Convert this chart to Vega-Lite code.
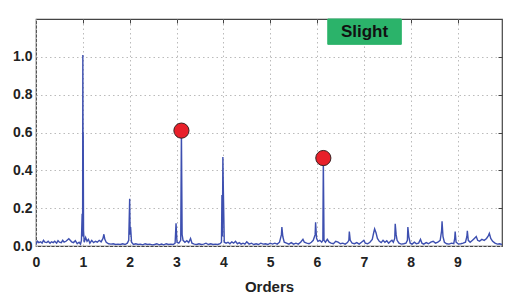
{
  "$schema": "https://vega.github.io/schema/vega-lite/v6.json",
  "width": 466,
  "height": 227,
  "autosize": {"type": "none"},
  "padding": {"left": 36, "top": 19, "right": 5, "bottom": 53},
  "background": "white",
  "config": {
    "font": "Liberation Sans",
    "view": {"stroke": "#444444", "strokeWidth": 1.2},
    "axis": {
      "labelFont": "Liberation Sans",
      "labelFontWeight": "bold",
      "labelFontSize": 14,
      "labelColor": "#222222",
      "labelFlush": false,
      "labelOverlap": false,
      "titleFont": "Liberation Sans",
      "titleFontWeight": "bold",
      "titleFontSize": 15,
      "titleColor": "#222222",
      "domain": false,
      "tickColor": "#444444",
      "gridColor": "#bbbbbb",
      "gridDash": [1.5, 3],
      "gridWidth": 1
    }
  },
  "datasets": {
    "spec": [
      {"o":0.00,"a":0.010},{"o":0.03,"a":0.025},{"o":0.06,"a":0.018},{"o":0.10,"a":0.022},{"o":0.13,"a":0.015},{"o":0.16,"a":0.030},{"o":0.19,"a":0.020},{"o":0.23,"a":0.018},{"o":0.26,"a":0.025},{"o":0.30,"a":0.015},{"o":0.33,"a":0.022},{"o":0.37,"a":0.018},{"o":0.40,"a":0.025},{"o":0.44,"a":0.015},{"o":0.47,"a":0.028},{"o":0.50,"a":0.020},{"o":0.54,"a":0.018},{"o":0.57,"a":0.030},{"o":0.60,"a":0.020},{"o":0.64,"a":0.025},{"o":0.67,"a":0.032},{"o":0.70,"a":0.038},{"o":0.73,"a":0.030},{"o":0.76,"a":0.022},{"o":0.80,"a":0.018},{"o":0.84,"a":0.028},{"o":0.88,"a":0.012},{"o":0.92,"a":0.020},{"o":0.95,"a":0.010},{"o":0.97,"a":0.030},{"o":0.985,"a":0.170},{"o":0.995,"a":0.050},{"o":1.000,"a":1.010},{"o":1.005,"a":0.400},{"o":1.008,"a":0.600},{"o":1.015,"a":0.080},{"o":1.03,"a":0.020},{"o":1.06,"a":0.045},{"o":1.09,"a":0.025},{"o":1.12,"a":0.035},{"o":1.15,"a":0.015},{"o":1.19,"a":0.030},{"o":1.23,"a":0.018},{"o":1.27,"a":0.025},{"o":1.31,"a":0.020},{"o":1.35,"a":0.030},{"o":1.39,"a":0.022},{"o":1.43,"a":0.040},{"o":1.45,"a":0.062},{"o":1.47,"a":0.035},{"o":1.50,"a":0.020},{"o":1.55,"a":0.012},{"o":1.60,"a":0.010},{"o":1.65,"a":0.012},{"o":1.70,"a":0.008},{"o":1.75,"a":0.010},{"o":1.80,"a":0.008},{"o":1.85,"a":0.012},{"o":1.90,"a":0.008},{"o":1.95,"a":0.015},{"o":1.98,"a":0.030},{"o":2.00,"a":0.250},{"o":2.01,"a":0.060},{"o":2.02,"a":0.100},{"o":2.04,"a":0.020},{"o":2.08,"a":0.008},{"o":2.13,"a":0.012},{"o":2.18,"a":0.008},{"o":2.23,"a":0.010},{"o":2.28,"a":0.006},{"o":2.33,"a":0.012},{"o":2.38,"a":0.008},{"o":2.43,"a":0.010},{"o":2.48,"a":0.006},{"o":2.53,"a":0.008},{"o":2.58,"a":0.012},{"o":2.63,"a":0.006},{"o":2.68,"a":0.010},{"o":2.73,"a":0.006},{"o":2.78,"a":0.012},{"o":2.83,"a":0.008},{"o":2.88,"a":0.010},{"o":2.93,"a":0.008},{"o":2.97,"a":0.015},{"o":2.99,"a":0.120},{"o":3.01,"a":0.020},{"o":3.05,"a":0.015},{"o":3.09,"a":0.030},{"o":3.105,"a":0.610},{"o":3.12,"a":0.060},{"o":3.14,"a":0.030},{"o":3.18,"a":0.020},{"o":3.22,"a":0.028},{"o":3.26,"a":0.018},{"o":3.30,"a":0.040},{"o":3.33,"a":0.015},{"o":3.38,"a":0.010},{"o":3.43,"a":0.008},{"o":3.48,"a":0.012},{"o":3.53,"a":0.008},{"o":3.58,"a":0.010},{"o":3.63,"a":0.015},{"o":3.68,"a":0.008},{"o":3.73,"a":0.012},{"o":3.78,"a":0.008},{"o":3.83,"a":0.010},{"o":3.88,"a":0.008},{"o":3.93,"a":0.012},{"o":3.96,"a":0.020},{"o":3.97,"a":0.270},{"o":3.98,"a":0.050},{"o":3.99,"a":0.470},{"o":4.00,"a":0.300},{"o":4.02,"a":0.020},{"o":4.06,"a":0.015},{"o":4.10,"a":0.020},{"o":4.14,"a":0.012},{"o":4.18,"a":0.022},{"o":4.22,"a":0.015},{"o":4.26,"a":0.025},{"o":4.30,"a":0.012},{"o":4.34,"a":0.018},{"o":4.38,"a":0.010},{"o":4.42,"a":0.015},{"o":4.46,"a":0.010},{"o":4.50,"a":0.022},{"o":4.55,"a":0.010},{"o":4.60,"a":0.015},{"o":4.65,"a":0.008},{"o":4.70,"a":0.012},{"o":4.75,"a":0.008},{"o":4.80,"a":0.015},{"o":4.85,"a":0.010},{"o":4.90,"a":0.012},{"o":4.95,"a":0.008},{"o":5.00,"a":0.015},{"o":5.05,"a":0.010},{"o":5.10,"a":0.015},{"o":5.15,"a":0.010},{"o":5.20,"a":0.020},{"o":5.24,"a":0.060},{"o":5.25,"a":0.100},{"o":5.27,"a":0.050},{"o":5.30,"a":0.020},{"o":5.35,"a":0.015},{"o":5.40,"a":0.010},{"o":5.45,"a":0.018},{"o":5.50,"a":0.010},{"o":5.55,"a":0.015},{"o":5.60,"a":0.010},{"o":5.65,"a":0.020},{"o":5.70,"a":0.035},{"o":5.73,"a":0.020},{"o":5.78,"a":0.015},{"o":5.83,"a":0.012},{"o":5.88,"a":0.020},{"o":5.92,"a":0.030},{"o":5.96,"a":0.060},{"o":5.97,"a":0.125},{"o":5.99,"a":0.040},{"o":6.02,"a":0.025},{"o":6.06,"a":0.030},{"o":6.10,"a":0.020},{"o":6.125,"a":0.030},{"o":6.135,"a":0.465},{"o":6.15,"a":0.030},{"o":6.18,"a":0.020},{"o":6.22,"a":0.035},{"o":6.26,"a":0.020},{"o":6.30,"a":0.015},{"o":6.35,"a":0.012},{"o":6.40,"a":0.025},{"o":6.45,"a":0.020},{"o":6.50,"a":0.012},{"o":6.55,"a":0.015},{"o":6.60,"a":0.010},{"o":6.65,"a":0.018},{"o":6.68,"a":0.030},{"o":6.69,"a":0.076},{"o":6.71,"a":0.030},{"o":6.75,"a":0.015},{"o":6.80,"a":0.012},{"o":6.85,"a":0.018},{"o":6.90,"a":0.010},{"o":6.95,"a":0.020},{"o":7.00,"a":0.030},{"o":7.03,"a":0.015},{"o":7.08,"a":0.012},{"o":7.13,"a":0.020},{"o":7.18,"a":0.035},{"o":7.21,"a":0.070},{"o":7.23,"a":0.090},{"o":7.26,"a":0.070},{"o":7.29,"a":0.040},{"o":7.33,"a":0.025},{"o":7.37,"a":0.018},{"o":7.41,"a":0.030},{"o":7.45,"a":0.020},{"o":7.49,"a":0.028},{"o":7.53,"a":0.015},{"o":7.57,"a":0.025},{"o":7.60,"a":0.030},{"o":7.63,"a":0.020},{"o":7.66,"a":0.040},{"o":7.67,"a":0.117},{"o":7.69,"a":0.060},{"o":7.71,"a":0.030},{"o":7.75,"a":0.015},{"o":7.80,"a":0.010},{"o":7.85,"a":0.012},{"o":7.90,"a":0.015},{"o":7.93,"a":0.030},{"o":7.94,"a":0.100},{"o":7.96,"a":0.050},{"o":7.99,"a":0.015},{"o":8.03,"a":0.010},{"o":8.08,"a":0.020},{"o":8.12,"a":0.012},{"o":8.17,"a":0.015},{"o":8.21,"a":0.035},{"o":8.24,"a":0.015},{"o":8.28,"a":0.010},{"o":8.33,"a":0.018},{"o":8.38,"a":0.012},{"o":8.43,"a":0.020},{"o":8.48,"a":0.025},{"o":8.53,"a":0.015},{"o":8.58,"a":0.020},{"o":8.63,"a":0.030},{"o":8.66,"a":0.080},{"o":8.67,"a":0.130},{"o":8.69,"a":0.050},{"o":8.72,"a":0.020},{"o":8.77,"a":0.012},{"o":8.82,"a":0.010},{"o":8.87,"a":0.015},{"o":8.92,"a":0.012},{"o":8.94,"a":0.040},{"o":8.95,"a":0.076},{"o":8.97,"a":0.020},{"o":9.02,"a":0.010},{"o":9.07,"a":0.012},{"o":9.12,"a":0.015},{"o":9.17,"a":0.020},{"o":9.20,"a":0.050},{"o":9.21,"a":0.080},{"o":9.23,"a":0.030},{"o":9.27,"a":0.020},{"o":9.32,"a":0.030},{"o":9.36,"a":0.040},{"o":9.40,"a":0.050},{"o":9.43,"a":0.030},{"o":9.47,"a":0.025},{"o":9.52,"a":0.035},{"o":9.57,"a":0.030},{"o":9.62,"a":0.040},{"o":9.66,"a":0.055},{"o":9.68,"a":0.067},{"o":9.71,"a":0.040},{"o":9.75,"a":0.025},{"o":9.80,"a":0.015},{"o":9.85,"a":0.010},{"o":9.90,"a":0.012},{"o":9.95,"a":0.008}
    ],
    "peaks": [
      {"o": 3.105, "a": 0.61},
      {"o": 6.135, "a": 0.465}
    ],
    "box": [
      {"x1": 6.23, "x2": 7.80, "y1": 1.066, "y2": 1.2, "label": "Slight", "xm": 7.015, "ym": 1.133}
    ]
  },
  "layer": [
    {
      "data": {"name": "box"},
      "mark": {"type": "rect", "fill": "#2bb36a", "stroke": "#2bb36a", "strokeWidth": 1},
      "encoding": {
        "x": {"field": "x1", "type": "quantitative", "scale": {"domain": [0, 9.95], "nice": false},
              "axis": {"orient": "top", "values": [1,2,3,4,5,6,7,8,9], "labels": false, "title": null, "grid": false, "tickSize": -4}},
        "x2": {"field": "x2"},
        "y": {"field": "y1", "type": "quantitative", "scale": {"domain": [0, 1.2], "nice": false},
              "axis": {"orient": "right", "values": [0.2,0.4,0.6,0.8,1.0], "labels": false, "title": null, "grid": false, "tickSize": -4}},
        "y2": {"field": "y2"}
      }
    },
    {
      "data": {"name": "spec"},
      "mark": {"type": "line", "color": "#3d4fb0", "strokeWidth": 1.4, "clip": true},
      "encoding": {
        "x": {"field": "o", "type": "quantitative",
              "axis": {"orient": "bottom", "values": [0,1,2,3,4,5,6,7,8,9], "title": "Orders", "titlePadding": 10, "labelPadding": 9, "ticks": false, "grid": true}},
        "y": {"field": "a", "type": "quantitative",
              "axis": {"orient": "left", "values": [0,0.2,0.4,0.6,0.8,1.0], "format": ".1f", "title": null, "labelPadding": 4, "ticks": false, "grid": true}}
      }
    },
    {
      "data": {"name": "peaks"},
      "mark": {"type": "point", "filled": true, "fill": "#e8202a", "stroke": "#3a2020", "strokeWidth": 1, "size": 230, "opacity": 1},
      "encoding": {
        "x": {"field": "o", "type": "quantitative", "axis": null},
        "y": {"field": "a", "type": "quantitative", "axis": null}
      }
    },
    {
      "data": {"name": "box"},
      "mark": {"type": "text", "font": "Liberation Sans", "fontWeight": "bold", "fontSize": 17, "color": "#111111", "align": "center", "baseline": "middle"},
      "encoding": {
        "x": {"field": "xm", "type": "quantitative", "axis": null},
        "y": {"field": "ym", "type": "quantitative", "axis": null},
        "text": {"field": "label"}
      }
    }
  ],
  "resolve": {"axis": {"x": "independent", "y": "independent"}}
}
